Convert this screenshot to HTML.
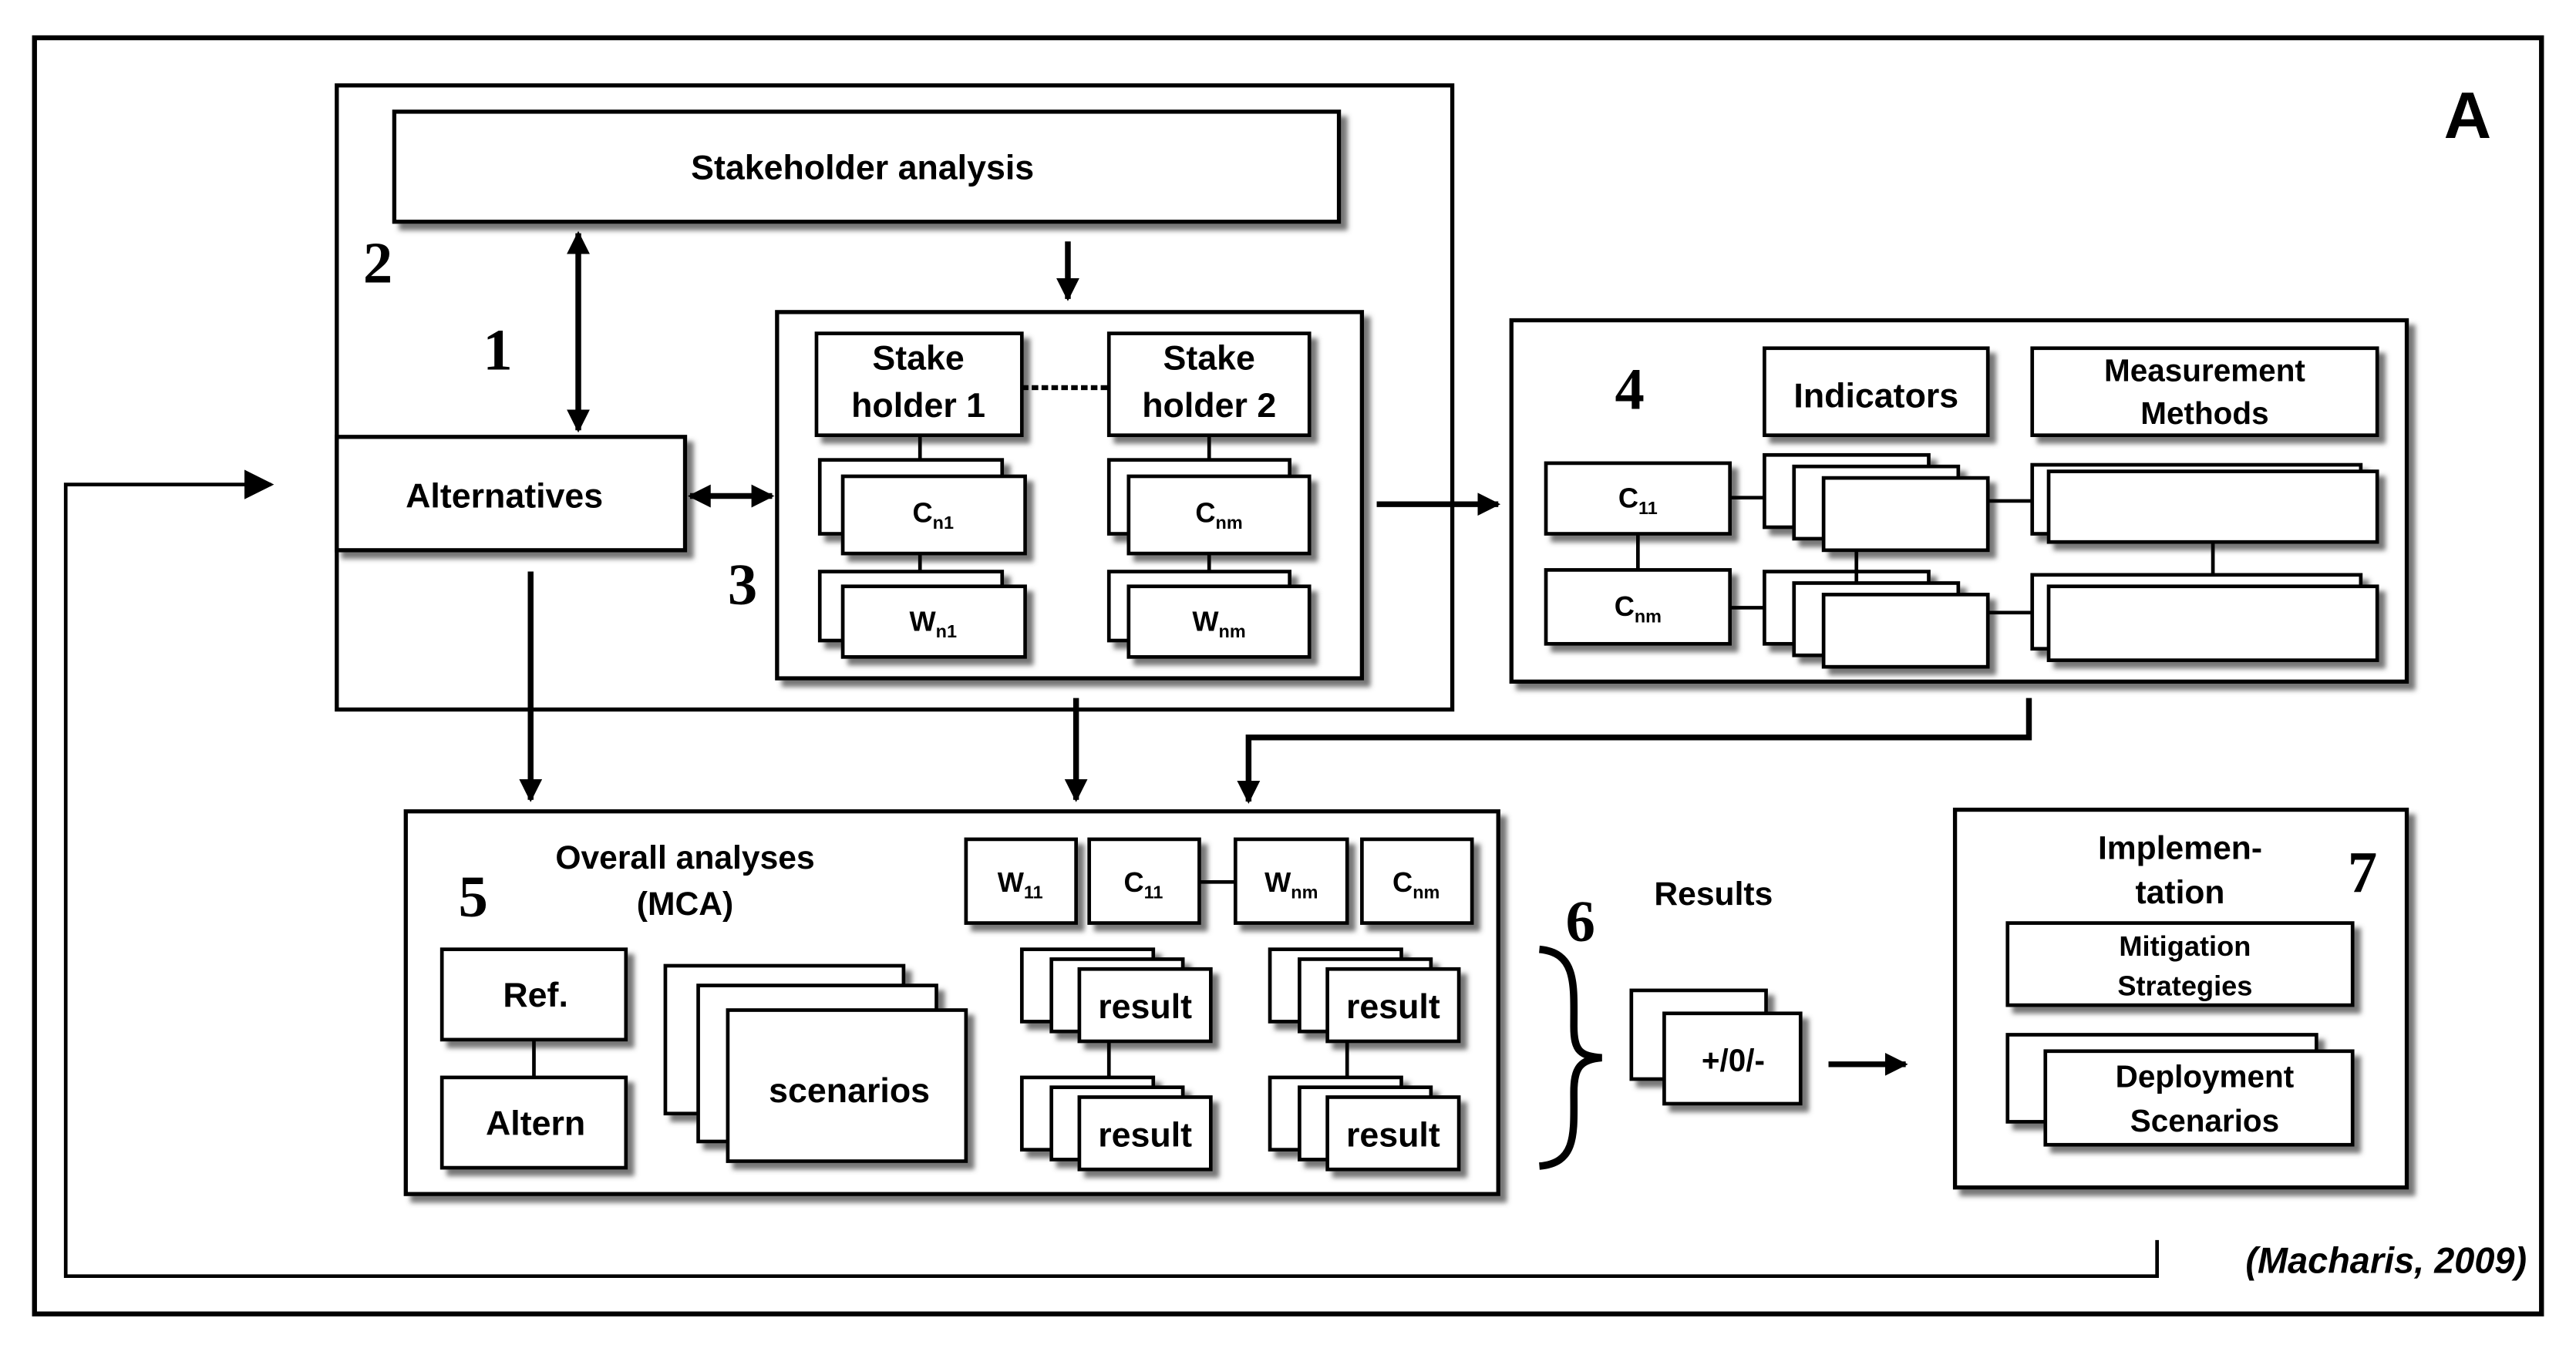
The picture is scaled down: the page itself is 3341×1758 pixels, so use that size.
<!DOCTYPE html>
<html><head><style>html,body{margin:0;padding:0;background:#fff}svg{display:block}</style></head><body>
<svg width="3341" height="1758" viewBox="0 0 1568 825" preserveAspectRatio="none" xmlns="http://www.w3.org/2000/svg" font-family="Liberation Sans, sans-serif">
<defs>
<filter id="s" x="-10%" y="-10%" width="130%" height="140%"><feDropShadow dx="4" dy="4" stdDeviation="1.5" flood-color="#555" flood-opacity="0.8"/></filter>
<marker id="A" viewBox="0 0 10 10" refX="9" refY="5" markerWidth="14" markerHeight="14" orient="auto-start-reverse" markerUnits="userSpaceOnUse"><path d="M0,0 L10,5 L0,10 z" fill="#000"/></marker>
<marker id="B" viewBox="0 0 10 10" refX="9" refY="5" markerWidth="20" markerHeight="18" orient="auto" markerUnits="userSpaceOnUse"><path d="M0,0 L10,5 L0,10 z" fill="#000"/></marker>
</defs>
<rect x="0" y="0" width="1568" height="825" fill="#fff"/>
<rect x="21" y="23" width="1526" height="777" fill="none" stroke="#000" stroke-width="3"/>
<text x="1502" y="84" font-size="40" font-weight="bold" text-anchor="middle" font-family="Liberation Sans, sans-serif">A</text>

<g fill="#fff" stroke="#000" stroke-width="2.5">
<rect x="205" y="52" width="679" height="380"/>
<g filter="url(#s)">
<rect x="240" y="68" width="575" height="67"/>
<rect x="205" y="266" width="212" height="69"/>
<rect x="473" y="190" width="356" height="223"/>
<rect x="920" y="195" width="545" height="220"/>
<rect x="247" y="494" width="665" height="233"/>
<rect x="1190" y="493" width="275" height="230"/>
</g>
<g filter="url(#s)" stroke-width="2.2">
<rect x="497" y="203" width="125" height="62"/>
<rect x="675" y="203" width="122" height="62"/>
<rect x="499" y="280" width="111" height="45"/><rect x="513" y="290" width="111" height="47"/>
<rect x="499" y="348" width="111" height="42"/><rect x="513" y="357" width="111" height="43"/>
<rect x="675" y="280" width="110" height="45"/><rect x="687" y="290" width="110" height="47"/>
<rect x="675" y="348" width="110" height="42"/><rect x="687" y="357" width="110" height="43"/>
<rect x="1074" y="212" width="136" height="53"/>
<rect x="1237" y="212" width="210" height="53"/>
<rect x="941" y="282" width="112" height="43"/>
<rect x="941" y="347" width="112" height="45"/>
<rect x="1074" y="277" width="100" height="44"/><rect x="1092" y="284" width="100" height="44"/><rect x="1110" y="291" width="100" height="44"/>
<rect x="1074" y="348" width="100" height="44"/><rect x="1092" y="355" width="100" height="44"/><rect x="1110" y="362" width="100" height="44"/>
<rect x="1237" y="283" width="200" height="42"/><rect x="1247" y="287" width="200" height="43"/>
<rect x="1237" y="350" width="200" height="45"/><rect x="1247" y="357" width="200" height="45"/>
<rect x="588" y="511" width="67" height="51"/><rect x="663" y="511" width="67" height="51"/>
<rect x="752" y="511" width="68" height="51"/><rect x="829" y="511" width="67" height="51"/>
<rect x="269" y="578" width="112" height="55"/><rect x="269" y="656" width="112" height="55"/>
<rect x="405" y="588" width="145" height="90"/><rect x="425" y="600" width="145" height="95"/><rect x="443" y="615" width="145" height="92"/>
<rect x="622" y="578" width="80" height="44"/><rect x="640" y="584" width="80" height="44"/><rect x="657" y="590" width="80" height="44"/>
<rect x="622" y="656" width="80" height="44"/><rect x="640" y="662" width="80" height="44"/><rect x="657" y="668" width="80" height="44"/>
<rect x="773" y="578" width="80" height="44"/><rect x="791" y="584" width="80" height="44"/><rect x="808" y="590" width="80" height="44"/>
<rect x="773" y="656" width="80" height="44"/><rect x="791" y="662" width="80" height="44"/><rect x="808" y="668" width="80" height="44"/>
<rect x="993" y="603" width="82" height="54"/><rect x="1013" y="617" width="83" height="55"/>
<rect x="1222" y="562" width="210" height="50"/>
<rect x="1222" y="630" width="188" height="53"/><rect x="1245" y="640" width="187" height="57"/>
</g>
</g>

<g stroke="#000" stroke-width="3.5" fill="none">
<line x1="352" y1="142" x2="352" y2="262" marker-start="url(#A)" marker-end="url(#A)"/>
<line x1="650" y1="147" x2="650" y2="182" marker-end="url(#A)"/>
<line x1="420" y1="302" x2="470" y2="302" marker-start="url(#A)" marker-end="url(#A)"/>
<line x1="838" y1="307" x2="912" y2="307" marker-end="url(#A)"/>
<line x1="323" y1="348" x2="323" y2="487" marker-end="url(#A)"/>
<line x1="655" y1="425" x2="655" y2="487" marker-end="url(#A)"/>
<polyline points="1235,425 1235,449 760,449 760,488" marker-end="url(#A)"/>
<line x1="1113" y1="648" x2="1160" y2="648" marker-end="url(#A)"/>
</g>
<g stroke="#000" stroke-width="2.2" fill="none">
<line x1="622" y1="236" x2="675" y2="236" stroke-dasharray="4,2" stroke-width="3"/>
<line x1="560" y1="265" x2="560" y2="280"/><line x1="560" y1="337" x2="560" y2="348"/>
<line x1="736" y1="265" x2="736" y2="280"/><line x1="736" y1="337" x2="736" y2="348"/>
<line x1="997" y1="325" x2="997" y2="347"/>
<line x1="1053" y1="303" x2="1074" y2="303"/><line x1="1053" y1="370" x2="1074" y2="370"/>
<line x1="1210" y1="305" x2="1237" y2="305"/><line x1="1210" y1="373" x2="1237" y2="373"/>
<line x1="1130" y1="335" x2="1130" y2="355"/>
<line x1="1347" y1="330" x2="1347" y2="350"/>
<line x1="730" y1="537" x2="752" y2="537"/>
<line x1="325" y1="633" x2="325" y2="656"/>
<line x1="675" y1="634" x2="675" y2="656"/><line x1="820" y1="634" x2="820" y2="656"/>
<polyline points="1313,755 1313,777 40,777 40,295 165,295" stroke-width="2.2" marker-end="url(#B)"/>
<path d="M937,578 C960,580 958,600 958,625 C958,640 962,643 975,644 C962,645 958,650 958,665 C958,690 960,708 937,710" stroke-width="4.5"/>
</g>

<g font-weight="bold" fill="#000" text-anchor="middle">
<text x="525" y="109" font-size="21">Stakeholder analysis</text>
<text x="307" y="309" font-size="21">Alternatives</text>
<text x="559" y="225" font-size="21">Stake</text><text x="559" y="254" font-size="21">holder 1</text>
<text x="736" y="225" font-size="21">Stake</text><text x="736" y="254" font-size="21">holder 2</text>
<text x="568" y="318" font-size="17">C<tspan font-size="11" dy="4">n1</tspan></text>
<text x="568" y="384" font-size="17">W<tspan font-size="11" dy="4">n1</tspan></text>
<text x="742" y="318" font-size="17">C<tspan font-size="11" dy="4">nm</tspan></text>
<text x="742" y="384" font-size="17">W<tspan font-size="11" dy="4">nm</tspan></text>
<text x="1142" y="248" font-size="21">Indicators</text>
<text x="1342" y="232" font-size="19">Measurement</text><text x="1342" y="258" font-size="19">Methods</text>
<text x="997" y="309" font-size="17">C<tspan font-size="11" dy="4">11</tspan></text>
<text x="997" y="375" font-size="17">C<tspan font-size="11" dy="4">nm</tspan></text>
<text x="417" y="529" font-size="20">Overall analyses</text><text x="417" y="557" font-size="20">(MCA)</text>
<text x="621" y="543" font-size="17">W<tspan font-size="11" dy="4">11</tspan></text>
<text x="696" y="543" font-size="17">C<tspan font-size="11" dy="4">11</tspan></text>
<text x="786" y="543" font-size="17">W<tspan font-size="11" dy="4">nm</tspan></text>
<text x="862" y="543" font-size="17">C<tspan font-size="11" dy="4">nm</tspan></text>
<text x="326" y="613" font-size="21">Ref.</text>
<text x="326" y="691" font-size="21">Altern</text>
<text x="517" y="671" font-size="21">scenarios</text>
<text x="697" y="620" font-size="21">result</text><text x="697" y="698" font-size="21">result</text>
<text x="848" y="620" font-size="21">result</text><text x="848" y="698" font-size="21">result</text>
<text x="1043" y="551" font-size="20">Results</text>
<text x="1055" y="652" font-size="19">+/0/-</text>
<text x="1327" y="523" font-size="20">Implemen-</text><text x="1327" y="550" font-size="20">tation</text>
<text x="1330" y="582" font-size="17">Mitigation</text><text x="1330" y="606" font-size="17">Strategies</text>
<text x="1342" y="662" font-size="19">Deployment</text><text x="1342" y="689" font-size="19">Scenarios</text>
<text x="1538" y="775" font-size="22" font-style="italic" text-anchor="end">(Macharis, 2009)</text>
</g>
<g font-family="Liberation Serif, serif" font-weight="bold" font-size="36" text-anchor="middle">
<text x="230" y="172">2</text><text x="303" y="225">1</text><text x="452" y="368">3</text>
<text x="992" y="249">4</text><text x="288" y="558">5</text><text x="962" y="573">6</text><text x="1438" y="543">7</text>
</g>
</svg>
</body></html>
